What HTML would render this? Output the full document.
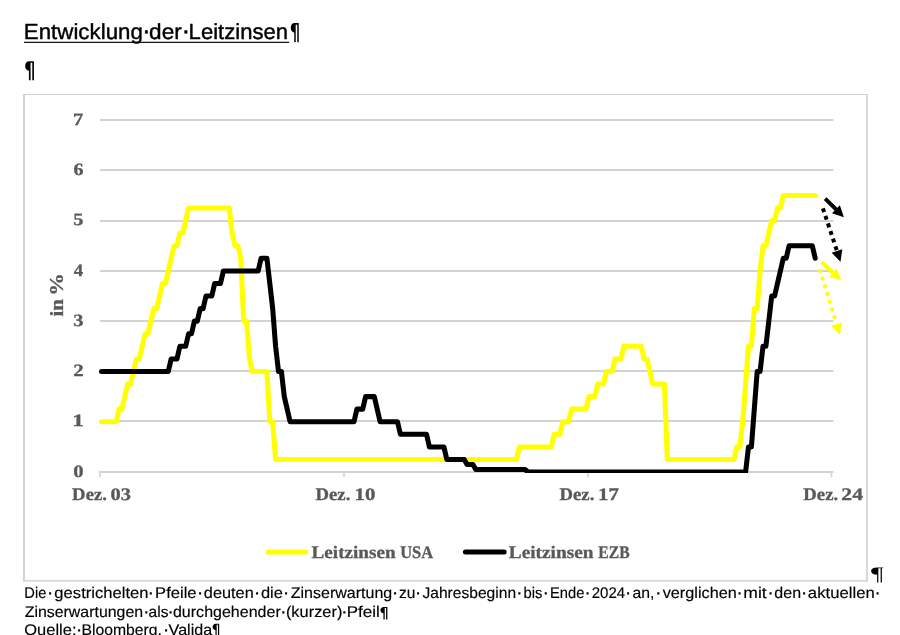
<!DOCTYPE html>
<html lang="de"><head><meta charset="utf-8"><title>Entwicklung der Leitzinsen</title>
<style>
html,body{margin:0;padding:0;background:#fff;}
body{width:900px;height:635px;position:relative;overflow:hidden;}
svg{position:absolute;left:0;top:0;display:block;}
svg text{white-space:pre;}
.ax text{font-family:"Liberation Serif",serif;font-weight:bold;fill:#595959;stroke:#595959;stroke-width:0.3px;}
.doc text{font-family:"Liberation Sans",sans-serif;fill:#000;stroke:#000;stroke-width:0.4px;stroke-linejoin:round;}
.doc text.bt{stroke-width:0.15px;}
</style></head><body>
<svg width="900" height="635" viewBox="0 0 900 635" role="img" aria-label="Entwicklung der Leitzinsen">
<defs><clipPath id="plot"><rect x="98.8" y="100" width="740" height="373"/></clipPath></defs>
<rect width="900" height="635" fill="#fff"/>
<!-- document heading -->
<g class="doc">
<text transform="translate(0,38.70) skewX(0.03)"><tspan x="23.82" y="0.00" font-size="21.80" textLength="119.06" lengthAdjust="spacingAndGlyphs">Entwicklung</tspan><tspan x="141.89" y="0.77" font-size="26.32">·</tspan><tspan x="149.10" y="0.00" font-size="21.80" textLength="32.66" lengthAdjust="spacingAndGlyphs">der</tspan><tspan x="181.59" y="0.77" font-size="26.32">·</tspan><tspan x="188.63" y="0.00" font-size="21.80" textLength="99.37" lengthAdjust="spacingAndGlyphs">Leitzinsen</tspan><tspan x="289.73" y="1.58" font-size="23.33" textLength="10.49" lengthAdjust="spacingAndGlyphs" font-family="DejaVu Sans, sans-serif" font-weight="bold" style="stroke:none">¶</tspan></text>
<rect x="24" y="41.75" width="265.2" height="1.15" fill="#000"/>
<text transform="translate(0,77.00) skewX(0.03)"><tspan x="24.02" y="1.41" font-size="23.09" textLength="11.54" lengthAdjust="spacingAndGlyphs" font-family="DejaVu Sans, sans-serif" font-weight="bold" style="stroke:none">¶</tspan></text>
</g>
<!-- chart frame -->
<g fill="#d3d3d3">
<rect x="23" y="94" width="2" height="487.5"/>
<rect x="23" y="94" width="844.8" height="1"/>
<rect x="866.1" y="94" width="1.7" height="487.5"/>
<rect x="23" y="580.1" width="844.8" height="1.5"/>
</g>
<!-- gridlines and axis ticks -->
<g stroke="#d3d3d3" stroke-width="1.9" fill="none"><line x1="99.0" x2="833.4" y1="472.00" y2="472.00"/><line x1="100.0" x2="833.4" y1="421.00" y2="421.00"/><line x1="100.0" x2="833.4" y1="371.00" y2="371.00"/><line x1="100.0" x2="833.4" y1="321.00" y2="321.00"/><line x1="100.0" x2="833.4" y1="271.00" y2="271.00"/><line x1="100.0" x2="833.4" y1="221.00" y2="221.00"/><line x1="100.0" x2="833.4" y1="170.00" y2="170.00"/><line x1="100.0" x2="833.4" y1="120.00" y2="120.00"/></g>
<g stroke="#dadada" stroke-width="1.9" fill="none"><line x1="100.05" x2="100.05" y1="472" y2="477.3"/><line x1="344.00" x2="344.00" y1="472" y2="477.3"/><line x1="587.85" x2="587.85" y1="472" y2="477.3"/><line x1="831.40" x2="831.40" y1="472" y2="477.3"/></g>
<!-- axis labels and legend text -->
<g class="ax">
<text transform="translate(0,476.70) skewX(0.03)"><tspan x="73.27" y="0.00" font-size="17.30" textLength="10.36" lengthAdjust="spacingAndGlyphs">0</tspan></text><text transform="translate(0,426.41) skewX(0.03)"><tspan x="72.22" y="0.00" font-size="17.30" textLength="11.76" lengthAdjust="spacingAndGlyphs">1</tspan></text><text transform="translate(0,376.13) skewX(0.03)"><tspan x="73.26" y="0.00" font-size="17.30" textLength="10.48" lengthAdjust="spacingAndGlyphs">2</tspan></text><text transform="translate(0,325.84) skewX(0.03)"><tspan x="73.28" y="0.00" font-size="17.30" textLength="10.24" lengthAdjust="spacingAndGlyphs">3</tspan></text><text transform="translate(0,275.56) skewX(0.03)"><tspan x="73.82" y="0.00" font-size="17.30" textLength="9.35" lengthAdjust="spacingAndGlyphs">4</tspan></text><text transform="translate(0,225.27) skewX(0.03)"><tspan x="73.28" y="0.00" font-size="17.30" textLength="10.24" lengthAdjust="spacingAndGlyphs">5</tspan></text><text transform="translate(0,174.99) skewX(0.03)"><tspan x="73.40" y="0.00" font-size="17.30" textLength="10.00" lengthAdjust="spacingAndGlyphs">6</tspan></text><text transform="translate(0,124.70) skewX(0.03)"><tspan x="72.96" y="0.00" font-size="17.30" textLength="10.36" lengthAdjust="spacingAndGlyphs">7</tspan></text>
<text transform="translate(0,499.55) skewX(0.03)"><tspan x="72.13" y="0.00" font-size="17.60" textLength="34.81" lengthAdjust="spacingAndGlyphs">Dez.</tspan> <tspan x="110.58" y="0.00" font-size="17.60" textLength="20.43" lengthAdjust="spacingAndGlyphs">03</tspan></text><text transform="translate(0,499.55) skewX(0.03)"><tspan x="315.53" y="0.00" font-size="17.60" textLength="34.81" lengthAdjust="spacingAndGlyphs">Dez.</tspan> <tspan x="354.63" y="0.00" font-size="17.60" textLength="20.91" lengthAdjust="spacingAndGlyphs">10</tspan></text><text transform="translate(0,499.55) skewX(0.03)"><tspan x="559.53" y="0.00" font-size="17.60" textLength="34.81" lengthAdjust="spacingAndGlyphs">Dez.</tspan> <tspan x="598.14" y="0.00" font-size="17.60" textLength="20.78" lengthAdjust="spacingAndGlyphs">17</tspan></text><text transform="translate(0,499.55) skewX(0.03)"><tspan x="803.33" y="0.00" font-size="17.60" textLength="34.81" lengthAdjust="spacingAndGlyphs">Dez.</tspan> <tspan x="841.33" y="0.00" font-size="17.60" textLength="21.70" lengthAdjust="spacingAndGlyphs">24</tspan></text>
<text transform="translate(62.7,316.3) rotate(-90) translate(0,0.00)"><tspan x="-0.22" y="0.00" font-size="18.70" textLength="17.31" lengthAdjust="spacingAndGlyphs">in</tspan> <tspan x="20.62" y="0.00" font-size="19.30" textLength="22.62" lengthAdjust="spacingAndGlyphs">%</tspan></text>
<text transform="translate(0,557.80) skewX(0.03)"><tspan x="311.61" y="0.00" font-size="17.60" textLength="83.95" lengthAdjust="spacingAndGlyphs">Leitzinsen</tspan> <tspan x="400.19" y="0.00" font-size="17.60" textLength="33.00" lengthAdjust="spacingAndGlyphs">USA</tspan></text>
<text transform="translate(0,557.80) skewX(0.03)"><tspan x="508.81" y="0.00" font-size="17.60" textLength="84.65" lengthAdjust="spacingAndGlyphs">Leitzinsen</tspan> <tspan x="598.27" y="0.00" font-size="17.60" textLength="31.34" lengthAdjust="spacingAndGlyphs">EZB</tspan></text>
</g>
<!-- series: Leitzinsen USA (yellow), Leitzinsen EZB (black) -->
<path d="M101.5,421.7 L116.1,421.7 L119.0,409.1 L121.9,409.1 L124.8,396.6 L127.7,384.0 L130.6,384.0 L133.5,371.4 L136.4,358.9 L139.3,358.9 L142.2,346.3 L145.1,333.7 L148.0,333.7 L150.9,321.1 L153.8,308.6 L156.7,308.6 L159.6,296.0 L162.5,283.4 L165.4,283.4 L168.3,270.9 L171.2,258.3 L174.1,245.7 L177.0,245.7 L179.9,233.1 L182.8,233.1 L185.7,220.6 L188.6,208.0 L229.2,208.0 L232.1,233.1 L235.0,245.7 L237.9,245.7 L240.8,258.3 L243.7,321.1 L246.6,321.1 L249.5,358.9 L252.4,371.4 L266.9,371.4 L269.8,421.7 L272.7,421.7 L275.6,459.4 L516.4,459.4 L519.3,446.9 L551.2,446.9 L554.1,434.3 L559.9,434.3 L562.8,421.7 L568.6,421.7 L571.5,409.1 L586.0,409.1 L589.0,396.6 L594.8,396.6 L597.7,384.0 L603.5,384.0 L606.4,371.4 L612.2,371.4 L615.1,358.9 L620.9,358.9 L623.8,346.3 L641.2,346.3 L644.1,358.9 L647.0,358.9 L649.9,371.4 L652.8,384.0 L664.4,384.0 L667.3,459.4 L734.0,459.4 L736.9,446.9 L739.8,446.9 L742.7,421.7 L745.6,384.0 L748.5,346.3 L751.4,346.3 L754.3,308.6 L757.2,308.6 L760.1,270.9 L763.0,245.7 L765.9,245.7 L768.8,233.1 L771.7,220.6 L774.6,220.6 L777.5,208.0 L780.4,208.0 L783.3,195.4 L815.2,195.4" fill="none" stroke="#ffff00" stroke-width="5.05" stroke-linejoin="round" stroke-linecap="round" clip-path="url(#plot)"/>
<path d="M101.5,371.4 L168.3,371.4 L171.2,358.9 L177.0,358.9 L179.9,346.3 L185.7,346.3 L188.6,333.7 L191.5,333.7 L194.4,321.1 L197.3,321.1 L200.2,308.6 L203.1,308.6 L206.0,296.0 L211.8,296.0 L214.7,283.4 L220.5,283.4 L223.4,270.9 L258.2,270.9 L261.1,258.3 L266.9,258.3 L269.8,283.4 L272.7,308.6 L275.6,346.3 L278.5,371.4 L281.4,371.4 L284.3,396.6 L287.2,409.1 L290.1,421.7 L354.0,421.7 L356.9,409.1 L362.7,409.1 L365.6,396.6 L374.3,396.6 L377.2,409.1 L380.1,421.7 L397.5,421.7 L400.4,434.3 L426.5,434.3 L429.4,446.9 L443.9,446.9 L446.8,459.4 L464.2,459.4 L467.1,464.5 L472.9,464.5 L475.8,469.5 L525.1,469.5 L528.0,472.0 L745.6,472.0 L748.5,446.9 L751.4,446.9 L754.3,409.1 L757.2,371.4 L760.1,371.4 L763.0,346.3 L765.9,346.3 L768.8,321.1 L771.7,296.0 L774.6,296.0 L777.5,283.4 L780.4,270.9 L783.3,258.3 L786.2,258.3 L789.1,245.7 L812.3,245.7 L815.2,258.3" fill="none" stroke="#000" stroke-width="5.05" stroke-linejoin="round" stroke-linecap="round" clip-path="url(#plot)"/>
<!-- expectation arrows -->
<line x1="825.20" y1="198.70" x2="836.29" y2="209.67" stroke="#000" stroke-width="4.00" stroke-linecap="butt"/><polygon points="843.90,217.20 832.00,213.30 839.88,205.34" fill="#000"/><line x1="822.90" y1="208.30" x2="837.15" y2="251.54" stroke="#000" stroke-width="4.00" stroke-linecap="butt" stroke-dasharray="4 4"/><polygon points="840.50,261.70 831.68,252.82 842.31,249.31" fill="#000"/><line x1="821.90" y1="262.30" x2="833.35" y2="272.92" stroke="#ffff00" stroke-width="4.00" stroke-linecap="butt"/><polygon points="841.20,280.20 829.18,276.69 836.80,268.48" fill="#ffff00"/><line x1="820.20" y1="270.80" x2="836.67" y2="324.57" stroke="#ffff00" stroke-width="4.20" stroke-linecap="round" stroke-dasharray="0.01 8.07"/><polygon points="839.80,334.80 831.17,325.73 841.87,322.45" fill="#ffff00"/>
<!-- legend keys -->
<line x1="268.2" x2="305.8" y1="552.1" y2="552.1" stroke="#ffff00" stroke-width="5" stroke-linecap="round"/>
<line x1="465.4" x2="504.2" y1="552.1" y2="552.1" stroke="#000" stroke-width="5" stroke-linecap="round"/>
<!-- caption -->
<g class="doc">
<text transform="translate(0,580.00) skewX(0.03)"><tspan x="870.96" y="0.22" font-size="19.04" textLength="12.50" lengthAdjust="spacingAndGlyphs" font-family="Liberation Serif, serif" font-weight="normal" style="stroke:none">¶</tspan></text>
<text class="bt" transform="translate(0,597.70) skewX(0.03) scale(1,1.030)"><tspan x="24.32" y="0.00" font-size="15.00" textLength="22.04" lengthAdjust="spacingAndGlyphs">Die</tspan><tspan x="46.65" y="0.89" font-size="20.00">·</tspan><tspan x="54.34" y="0.00" font-size="15.00" textLength="94.25" lengthAdjust="spacingAndGlyphs">gestrichelten</tspan><tspan x="147.45" y="0.89" font-size="20.00">·</tspan><tspan x="155.07" y="0.00" font-size="15.00" textLength="41.50" lengthAdjust="spacingAndGlyphs">Pfeile</tspan><tspan x="196.65" y="0.89" font-size="20.00">·</tspan><tspan x="203.85" y="0.00" font-size="15.00" textLength="49.89" lengthAdjust="spacingAndGlyphs">deuten</tspan><tspan x="253.65" y="0.89" font-size="20.00">·</tspan><tspan x="260.94" y="0.00" font-size="15.00" textLength="21.99" lengthAdjust="spacingAndGlyphs">die</tspan><tspan x="282.85" y="0.89" font-size="20.00">·</tspan><tspan x="290.72" y="0.00" font-size="15.00" textLength="101.54" lengthAdjust="spacingAndGlyphs">Zinserwartung</tspan><tspan x="391.85" y="0.89" font-size="20.00">·</tspan><tspan x="398.98" y="0.00" font-size="15.00" textLength="16.45" lengthAdjust="spacingAndGlyphs">zu</tspan><tspan x="414.85" y="0.89" font-size="20.00">·</tspan><tspan x="422.47" y="0.00" font-size="15.00" textLength="93.64" lengthAdjust="spacingAndGlyphs">Jahresbeginn</tspan><tspan x="515.95" y="0.89" font-size="20.00">·</tspan><tspan x="523.54" y="0.00" font-size="15.00" textLength="18.96" lengthAdjust="spacingAndGlyphs">bis</tspan><tspan x="542.45" y="0.89" font-size="20.00">·</tspan><tspan x="549.92" y="0.00" font-size="15.00" textLength="34.45" lengthAdjust="spacingAndGlyphs">Ende</tspan><tspan x="584.35" y="0.89" font-size="20.00">·</tspan><tspan x="591.75" y="0.00" font-size="15.00" textLength="33.40" lengthAdjust="spacingAndGlyphs">2024</tspan><tspan x="624.65" y="0.89" font-size="20.00">·</tspan><tspan x="632.39" y="0.00" font-size="15.00" textLength="21.93" lengthAdjust="spacingAndGlyphs">an,</tspan><tspan x="655.05" y="0.89" font-size="20.00">·</tspan><tspan x="662.72" y="0.00" font-size="15.00" textLength="74.09" lengthAdjust="spacingAndGlyphs">verglichen</tspan><tspan x="736.35" y="0.89" font-size="20.00">·</tspan><tspan x="743.36" y="0.00" font-size="15.00" textLength="23.38" lengthAdjust="spacingAndGlyphs">mit</tspan><tspan x="767.15" y="0.89" font-size="20.00">·</tspan><tspan x="774.36" y="0.00" font-size="15.00" textLength="26.74" lengthAdjust="spacingAndGlyphs">den</tspan><tspan x="800.65" y="0.89" font-size="20.00">·</tspan><tspan x="807.85" y="0.00" font-size="15.00" textLength="66.89" lengthAdjust="spacingAndGlyphs">aktuellen</tspan><tspan x="874.15" y="0.89" font-size="20.00">·</tspan></text>
<text class="bt" transform="translate(0,616.60) skewX(0.03) scale(1,1.030)"><tspan x="24.72" y="0.00" font-size="15.00" textLength="118.37" lengthAdjust="spacingAndGlyphs">Zinserwartungen</tspan><tspan x="142.95" y="0.89" font-size="20.00">·</tspan><tspan x="148.60" y="0.00" font-size="15.00" textLength="19.92" lengthAdjust="spacingAndGlyphs">als</tspan><tspan x="167.15" y="0.89" font-size="20.00">·</tspan><tspan x="172.96" y="0.00" font-size="15.00" textLength="107.83" lengthAdjust="spacingAndGlyphs">durchgehender</tspan><tspan x="279.95" y="0.89" font-size="20.00">·</tspan><tspan x="285.92" y="0.00" font-size="15.00" textLength="56.44" lengthAdjust="spacingAndGlyphs">(kurzer)</tspan><tspan x="341.05" y="0.89" font-size="20.00">·</tspan><tspan x="346.64" y="0.00" font-size="15.00" textLength="33.18" lengthAdjust="spacingAndGlyphs">Pfeil</tspan><tspan x="379.46" y="1.42" font-size="14.65" textLength="9.18" lengthAdjust="spacingAndGlyphs" font-family="DejaVu Sans, sans-serif" font-weight="bold" style="stroke:none">¶</tspan></text>
<text class="bt" transform="translate(0,634.70) skewX(0.03) scale(1,1.030)"><tspan x="24.26" y="0.00" font-size="15.00" textLength="52.29" lengthAdjust="spacingAndGlyphs">Quelle:</tspan><tspan x="75.75" y="0.89" font-size="20.00">·</tspan><tspan x="81.44" y="0.00" font-size="15.00" textLength="80.46" lengthAdjust="spacingAndGlyphs">Bloomberg,</tspan><tspan x="162.65" y="0.89" font-size="20.00">·</tspan><tspan x="168.62" y="0.00" font-size="15.00" textLength="43.59" lengthAdjust="spacingAndGlyphs">Valida</tspan><tspan x="211.72" y="-0.16" font-size="15.00" textLength="8.66" lengthAdjust="spacingAndGlyphs" font-family="DejaVu Sans, sans-serif" font-weight="bold" style="stroke:none">¶</tspan></text>
</g>
</svg>
</body></html>
